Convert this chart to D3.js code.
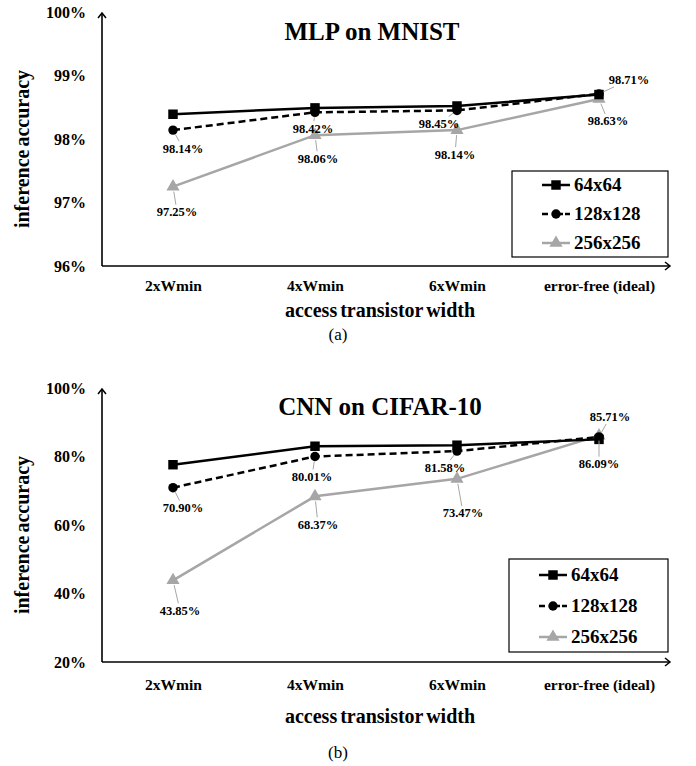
<!DOCTYPE html>
<html>
<head>
<meta charset="utf-8">
<script src="https://cdn.jsdelivr.net/npm/d3@7"></script>
<style>
  body { margin: 0; background: #fff; }
</style>
</head>
<body>
<div id="chart"></div>
<script>
// data
var categories = ["2xWmin", "4xWmin", "6xWmin", "error-free (ideal)"];
var seriesNames = ["64x64", "128x128", "256x256"];

// (a) MLP on MNIST
var mlp64 = [98.39, 98.49, 98.52, 98.70];
var mlp128 = [98.14, 98.42, 98.45, 98.71];
var mlp256 = [97.25, 98.06, 98.14, 98.63];
var mlpTicks = [96, 97, 98, 99, 100];

// (b) CNN on CIFAR-10
var cnn64 = [77.6, 83.0, 83.3, 85.0];
var cnn128 = [70.90, 80.01, 81.58, 85.71];
var cnn256 = [43.85, 68.37, 73.47, 86.09];
var cnnTicks = [20, 40, 60, 80, 100];

// where the value labels sit relative to their marker (px), series 128 and 256 only
var mlpLabelPos = {
  s128: [[10, 18], [-2, 16], [-18, 13], [30, -14]],
  s256: [[4, 25], [3, 23], [-2, 24], [9, 22]]
};
var cnnLabelPos = {
  s128: [[10, 20], [-3, 20], [-12, 16], [11, -20]],
  s256: [[7, 30], [3, 28], [6, 34], [0, 28]]
};

var FONT = "'Liberation Serif', 'Times New Roman', Times, serif";

var W = 696, H = 766;
var svg = d3.select("#chart").append("svg")
  .attr("width", W)
  .attr("height", H)
  .style("font-family", FONT);

// open arrow heads for the axes
var defs = svg.append("defs");
defs.append("marker")
  .attr("id", "arrow")
  .attr("viewBox", "-6 -6 12 12")
  .attr("refX", 0).attr("refY", 0)
  .attr("markerWidth", 12).attr("markerHeight", 12)
  .attr("markerUnits", "userSpaceOnUse")
  .attr("orient", "auto")
  .append("path")
  .attr("d", "M-5,-4 L0,0 L-5,4")
  .attr("fill", "none")
  .attr("stroke", "#000")
  .attr("stroke-width", 1.5);

var styles = [
  {color: "#000", width: 2.5, dash: null, shape: d3.symbolSquare, size: 90},
  {color: "#000", width: 2.5, dash: "7,4", shape: d3.symbolCircle, size: 70},
  {color: "#a6a6a6", width: 2.5, dash: null, shape: d3.symbolTriangle, size: 75}
];

function txt(sel) {
  return sel.style("font-family", FONT).attr("fill", "#000");
}

function drawChart(cfg) {
  var g = svg.append("g");

  var x = d3.scalePoint()
    .domain(categories)
    .range([cfg.left, cfg.right])
    .padding(0.5);

  var y = d3.scaleLinear()
    .domain([cfg.ticks[0], cfg.ticks[cfg.ticks.length - 1]])
    .range([cfg.bottom, cfg.top]);

  // axes lines with arrows
  g.append("line")
    .attr("x1", cfg.left).attr("y1", cfg.bottom)
    .attr("x2", cfg.left).attr("y2", cfg.top + 1)
    .attr("stroke", "#000").attr("stroke-width", 1.6)
    .attr("marker-end", "url(#arrow)");
  g.append("line")
    .attr("x1", cfg.left).attr("y1", cfg.bottom)
    .attr("x2", cfg.right).attr("y2", cfg.bottom)
    .attr("stroke", "#000").attr("stroke-width", 1.6)
    .attr("marker-end", "url(#arrow)");

  // y tick labels
  var yAxis = d3.axisLeft(y)
    .tickValues(cfg.ticks)
    .tickSize(0)
    .tickPadding(16)
    .tickFormat(d => d + "%");
  var ya = g.append("g")
    .attr("transform", `translate(${cfg.left}, 0)`)
    .call(yAxis);
  ya.attr("font-family", null);
  ya.select(".domain").remove();
  txt(ya.selectAll("text"))
    .attr("font-size", 16)
    .attr("font-weight", "bold");

  // x tick labels
  var xAxis = d3.axisBottom(x).tickSize(0).tickPadding(0);
  var xa = g.append("g")
    .attr("transform", `translate(0, ${cfg.bottom})`)
    .call(xAxis);
  xa.attr("font-family", null);
  xa.select(".domain").remove();
  txt(xa.selectAll("text"))
    .attr("dy", null)
    .attr("y", cfg.xTickY - cfg.bottom)
    .attr("font-size", 15.5)
    .attr("font-weight", "bold");

  // title
  txt(g.append("text"))
    .attr("x", cfg.titleX)
    .attr("y", cfg.titleY)
    .attr("text-anchor", "middle")
    .attr("font-size", 25)
    .attr("font-weight", "bold")
    .text(cfg.title);

  // axis titles
  txt(g.append("text"))
    .attr("transform", `translate(29, ${(cfg.top + cfg.bottom) / 2 + 10}) rotate(-90)`)
    .attr("text-anchor", "middle")
    .attr("font-size", 20)
    .attr("font-weight", "bold")
    .attr("word-spacing", -2)
    .text("inference accuracy");

  txt(g.append("text"))
    .attr("x", 380)
    .attr("y", cfg.xTitleY)
    .attr("text-anchor", "middle")
    .attr("font-size", 20)
    .attr("font-weight", "bold")
    .attr("word-spacing", -2)
    .text("access transistor width");

  txt(g.append("text"))
    .attr("x", 338)
    .attr("y", cfg.capY)
    .attr("text-anchor", "middle")
    .attr("font-size", 17)
    .text(cfg.caption);

  // series
  var line = d3.line()
    .x((d, i) => x(categories[i]))
    .y(d => y(d));

  // draw grey first so black sits on top, like the original
  [2, 1, 0].forEach(function(si) {
    var st = styles[si];
    var vals = cfg.series[si];
    g.append("path")
      .datum(vals)
      .attr("d", line)
      .attr("fill", "none")
      .attr("stroke", st.color)
      .attr("stroke-width", st.width)
      .attr("stroke-dasharray", st.dash);
    g.selectAll(null)
      .data(vals)
      .enter()
      .append("path")
      .attr("d", d3.symbol().type(st.shape).size(st.size))
      .attr("transform", (d, i) => `translate(${x(categories[i])}, ${y(d)})`)
      .attr("fill", st.color);
  });

  // value labels with leader lines
  [["s128", 1], ["s256", 2]].forEach(function(pair) {
    var offs = cfg.labelPos[pair[0]];
    var vals = cfg.series[pair[1]];
    vals.forEach(function(v, i) {
      var px = x(categories[i]), py = y(v);
      var dx = offs[i][0], dy = offs[i][1];
      var lx = px + dx, ly = py + dy;
      // leader from marker edge to label box edge
      var len = Math.sqrt(dx * dx + dy * dy);
      var ux = dx / len, uy = dy / len;
      var hw = 21, hh = 7;
      var t = Math.min(Math.abs(ux) > 0.001 ? hw / Math.abs(ux) : 1e9,
                       Math.abs(uy) > 0.001 ? hh / Math.abs(uy) : 1e9);
      g.append("line")
        .attr("x1", px + ux * 5).attr("y1", py + uy * 5)
        .attr("x2", lx - ux * t).attr("y2", ly - uy * t)
        .attr("stroke", "#a6a6a6")
        .attr("stroke-width", 1);
      txt(g.append("text"))
        .attr("x", lx)
        .attr("y", ly + 4.5)
        .attr("text-anchor", "middle")
        .attr("font-size", 12.5)
        .attr("font-weight", "bold")
        .text(v.toFixed(2) + "%");
    });
  });

  // legend
  var lg = g.append("g");
  lg.append("rect")
    .attr("x", cfg.legend.x).attr("y", cfg.legend.y)
    .attr("width", cfg.legend.w).attr("height", cfg.legend.h)
    .attr("fill", "#fff")
    .attr("stroke", "#000")
    .attr("stroke-width", 1.2);
  seriesNames.forEach(function(name, si) {
    var st = styles[si];
    var ry = cfg.legend.y + cfg.legend.rowTop + si * cfg.legend.rowGap;
    var lx0 = cfg.legend.x + 30, lx1 = cfg.legend.x + 58;
    lg.append("line")
      .attr("x1", lx0).attr("y1", ry)
      .attr("x2", lx1).attr("y2", ry)
      .attr("stroke", st.color)
      .attr("stroke-width", st.width)
      .attr("stroke-dasharray", si === 1 ? "6,9" : null);
    if (si === 1) {
      lg.append("line")
        .attr("x1", lx1 - 5).attr("y1", ry)
        .attr("x2", lx1).attr("y2", ry)
        .attr("stroke", st.color)
        .attr("stroke-width", st.width);
    }
    lg.append("path")
      .attr("d", d3.symbol().type(st.shape).size(st.size))
      .attr("transform", `translate(${(lx0 + lx1) / 2}, ${ry})`)
      .attr("fill", st.color);
    txt(lg.append("text"))
      .attr("x", lx1 + 4)
      .attr("y", ry + 6)
      .attr("font-size", 19)
      .attr("font-weight", "bold")
      .text(name);
  });
}

drawChart({
  title: "MLP on MNIST", titleX: 372, titleY: 40,
  caption: "(a)", capY: 340,
  left: 102, right: 670, top: 12, bottom: 266,
  xTickY: 291, xTitleY: 317,
  ticks: mlpTicks,
  series: [mlp64, mlp128, mlp256],
  labelPos: mlpLabelPos,
  legend: {x: 512, y: 171, w: 156, h: 86, rowTop: 14, rowGap: 29}
});

drawChart({
  title: "CNN on CIFAR-10", titleX: 380, titleY: 415,
  caption: "(b)", capY: 758,
  left: 102, right: 670, top: 388, bottom: 662,
  xTickY: 690, xTitleY: 723,
  ticks: cnnTicks,
  series: [cnn64, cnn128, cnn256],
  labelPos: cnnLabelPos,
  legend: {x: 509, y: 559, w: 159, h: 93, rowTop: 16, rowGap: 31}
});
</script>
</body>
</html>
